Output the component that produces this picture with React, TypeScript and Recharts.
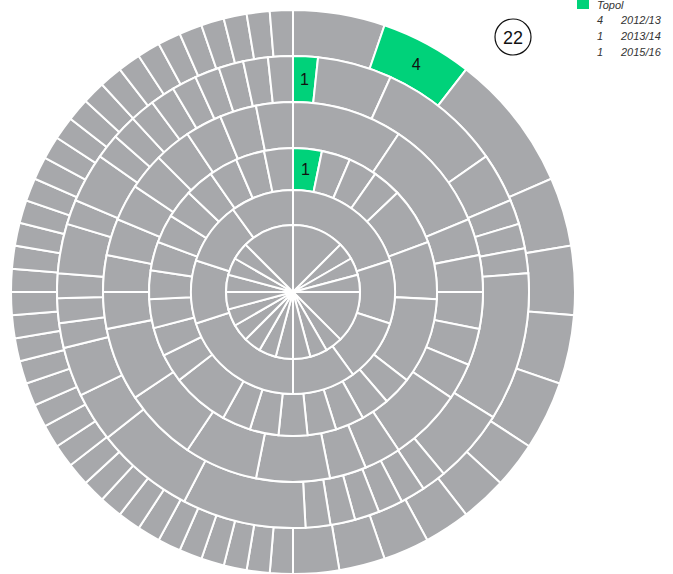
import React from 'react';
import { PieChart, Pie, Cell } from 'recharts';

// one ring per season, outermost first
const seasons = ['2012/13', '2013/14', '2014/15', '2015/16', '2016/17', '2017/18'];

const season1213 = [4, 4, 6, 3, 3, 3, 3, 2, 2, 2, 2, 2, 2,
  1, 1, 1, 1, 1, 1, 1, 1, 1, 1, 1, 1, 1, 1, 1, 1, 1, 1, 1,
  1, 1, 1, 1, 1, 1, 1, 1, 1, 1, 1, 1, 1, 1, 1, 1, 1, 1, 1];
const season1314 = [1, 3, 5, 2, 1, 1, 1, 6, 3, 1, 1, 1, 1, 1, 1, 5, 4, 2,
  2, 1, 1, 1, 2, 1, 2, 1, 1, 1, 1, 1, 1, 1, 1, 1];
const season1415 = [3, 3, 1, 1, 1, 1, 1, 2, 1, 1, 2, 2, 2, 2,
  1, 1, 1, 1, 1, 1, 1, 1, 1];
const season1516 = [1, 1, 1, 1, 2, 2, 3, 1, 1, 1, 1, 1, 1, 1, 2,
  1, 1, 1, 1, 1, 1, 1, 1, 1, 1, 1];
const season1617 = [2, 1, 1, 1, 2, 1, 1, 1];
const season1718 = [3, 1, 1, 1, 3, 1, 1, 1, 1, 1, 1, 1, 1, 1, 1, 1, 1, 3];

// index of Topol's segment in each ring (-1 = not present)
const topolIndex = [1, 0, -1, 0, -1, -1];

const legendValues = [4, 1, 1];
const legendSeasons = ['2012/13', '2013/14', '2015/16'];
const roundNumber = 22;

const rings = [season1213, season1314, season1415, season1516, season1617, season1718];
const radii = [
  [236, 282],
  [190, 236],
  [144, 190],
  [102, 144],
  [67, 102],
  [0, 67],
];

const GREY = '#a7a8ab';
const GREEN = '#00d27a';
const RAD = Math.PI / 180;
const FONT = '"Liberation Sans", Arial, Helvetica, sans-serif';

const renderLabel = (props: any) => {
  const { cx, cy, midAngle, innerRadius, outerRadius, payload } = props;
  if (!payload || !payload.topol) return null;
  const r = (innerRadius + outerRadius) / 2;
  const x = cx + r * Math.cos(-midAngle * RAD);
  const y = cy + r * Math.sin(-midAngle * RAD);
  return (
    <text x={x} y={y} textAnchor="middle" dominantBaseline="central"
      fontSize={16} fontFamily={FONT} fill="#111">
      {payload.value}
    </text>
  );
};

export default function App() {
  return (
    <div style={{ position: 'absolute', left: 0, top: 0, width: 673, height: 574 }}>
      <PieChart width={673} height={574} margin={{ top: 0, right: 0, bottom: 0, left: 0 }}>
        {rings.map((values, ri) => {
          const data = values.map((v, i) => ({
            name: seasons[ri] + '-' + i,
            value: v,
            topol: i === topolIndex[ri],
          }));
          return (
            <Pie
              key={seasons[ri]}
              data={data}
              dataKey="value"
              cx={293}
              cy={292}
              innerRadius={radii[ri][0]}
              outerRadius={radii[ri][1]}
              startAngle={90}
              endAngle={-270}
              stroke="#fff"
              strokeWidth={2}
              label={renderLabel}
              labelLine={false}
              isAnimationActive={false}
            >
              {data.map((d) => (
                <Cell key={d.name} fill={d.topol ? GREEN : GREY} />
              ))}
            </Pie>
          );
        })}
      </PieChart>

      <svg width={673} height={574} style={{ position: 'absolute', left: 0, top: 0, pointerEvents: 'none' }}>
        <circle cx={513} cy={37} r={18} fill="#fff" stroke="#111" strokeWidth={1.2} />
        <text x={513} y={43.5} textAnchor="middle" fontSize={18} fontFamily={FONT} fill="#111">
          {roundNumber}
        </text>
        <rect x={577} y={-2} width={12} height={11} fill={GREEN} />
        <text x={597} y={9} fontSize={11} fontStyle="italic" fontFamily={FONT} fill="#333">
          Topol
        </text>
        {legendSeasons.map((s, i) => (
          <g key={s}>
            <text x={597} y={24 + i * 16} fontSize={11} fontStyle="italic" fontFamily={FONT} fill="#333">
              {legendValues[i]}
            </text>
            <text x={621} y={24 + i * 16} fontSize={11} fontStyle="italic" fontFamily={FONT} fill="#333">
              {s}
            </text>
          </g>
        ))}
      </svg>
    </div>
  );
}
